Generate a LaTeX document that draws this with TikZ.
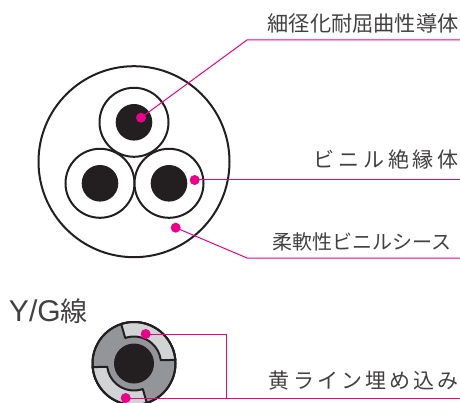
\documentclass[tikz,border=0pt]{standalone}
\usepackage{fontspec}
\setmainfont{Noto Sans CJK JP}
\newfontfamily\lsA[LetterSpace=19]{Noto Sans CJK JP}
\newfontfamily\lsB[LetterSpace=15]{Noto Sans CJK JP}
\newfontfamily\latn{Liberation Sans}
\definecolor{ink}{HTML}{231F20}
\definecolor{pink}{HTML}{EC008C}
\definecolor{txt}{HTML}{434041}
\definecolor{midgray}{HTML}{939598}
\definecolor{lightgray}{HTML}{D1D3D4}
\tikzset{
  ring/.style={circle,draw=ink,line width=2pt,fill=white,inner sep=0pt,outer sep=0pt},
  core/.style={circle,fill=ink,inner sep=0pt,outer sep=0pt,minimum size=36.6pt},
  dot/.style={circle,fill=pink,inner sep=0pt,outer sep=0pt,minimum size=10pt},
  lead/.style={draw=pink,line width=1pt},
  label/.style={inner sep=0pt,outer sep=0pt,text=txt,anchor=east,font=\fontsize{21}{21}\selectfont},
  sector/.style={draw=ink,line width=2pt,fill=lightgray,line join=round}
}
\begin{document}
\begin{tikzpicture}[x=1pt,y=-1pt]
\useasboundingbox (0,0) rectangle (460,403);
\clip (0,0) rectangle (460,403);
\node[ring,minimum size=191pt] (sheath) at (134,161.7) {};
\node[ring,minimum size=69pt] (insT) at (134,122.3) {};
\node[ring,minimum size=69pt] (insL) at (100,183.3) {};
\node[ring,minimum size=69pt] (insR) at (169,183.3) {};
\node[core] (coreT) at (134,122.3) {};
\node[core] (coreL) at (100,183.3) {};
\node[core] (coreR) at (169,183.3) {};
% Y/G cable
\node[circle,draw=ink,line width=2pt,fill=midgray,minimum size=83pt,inner sep=0pt,outer sep=0pt] (yg) at (134,363.5) {};
\begin{scope}[shift={(134,363.5)},y=1pt]
\draw[sector] (108:41.5) -- (109:27) arc[start angle=109,end angle=7,radius=27] -- (5:41.5) arc[start angle=5,end angle=108,radius=41.5] -- cycle;
\draw[sector] (288:41.5) -- (289:27) arc[start angle=289,end angle=187,radius=27] -- (185:41.5) arc[start angle=185,end angle=288,radius=41.5] -- cycle;
\end{scope}
\node[circle,draw=ink,line width=2pt,minimum size=83pt,inner sep=0pt,outer sep=0pt] (ygrim) at (134,363.5) {};
\node[core,minimum size=40pt] (ygcore) at (134,363.5) {};
% dots
\node[dot] (d1) at (141,117.7) {};
\node[dot] (d2) at (194.7,180) {};
\node[dot] (d3) at (175.7,227.7) {};
\node[dot] (d4) at (145.7,334) {};
\node[dot] (d5) at (125.7,398) {};
% free ends
\coordinate (b1) at (247,40);
\coordinate (e1) at (460,40);
\coordinate (e2) at (460,180);
\coordinate (b3) at (247,258);
\coordinate (e3) at (460,258);
\coordinate (b4) at (226,334);
\coordinate (b5) at (226,398);
\coordinate (e5) at (460,398);
\draw[lead] (d1.center) -- (b1) -- (e1);
\draw[lead] (d2.center) -- (e2);
\draw[lead] (d3.center) -- (b3) -- (e3);
\draw[lead] (d4.center) -- (b4) -- (b5);
\draw[lead] (d5.center) -- (e5);
% labels
\node[label,font=\fontsize{21.2}{21}\selectfont] (t1) at (458.5,23.5) {細径化耐屈曲性導体};
\node[label] (t2) at (456,159.5) {\lsA ビニル絶縁体\kern-3pt};
\node[label,font=\fontsize{20}{20}\selectfont] (t3) at (451,241.5) {柔軟性ビニルシース};
\node[label] (t4) at (456,380.5) {\lsB 黄ライン埋め込み\kern-3pt};
\node[label,anchor=base west,font=\fontsize{27}{27}\selectfont] (t5) at (9,321.7) {{\latn\fontsize{30}{30}\selectfont Y/G}線};
\end{tikzpicture}
\end{document}
